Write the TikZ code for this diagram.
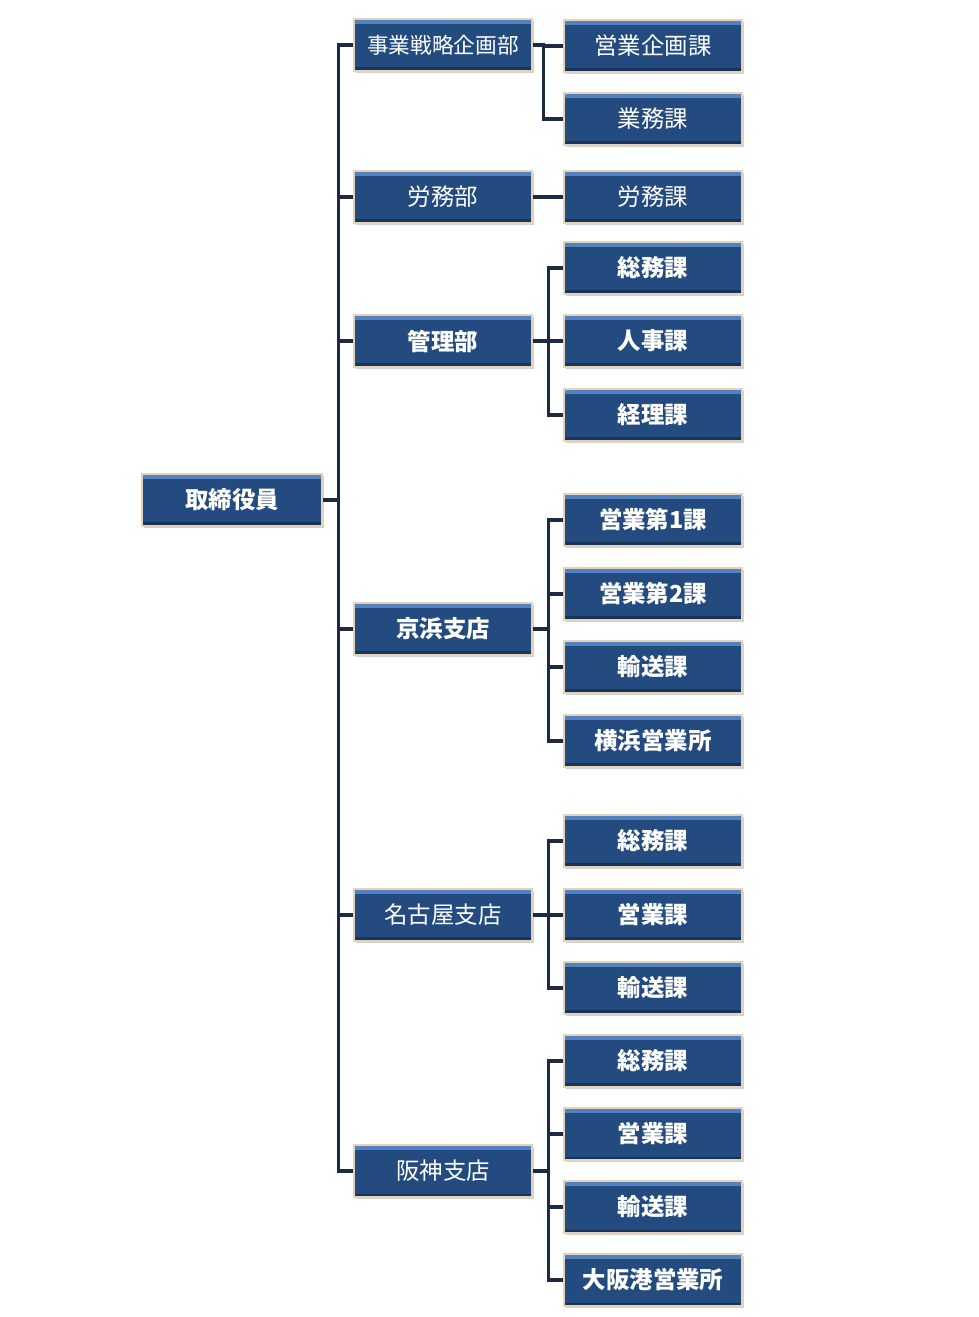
\documentclass[tikz,border=0pt]{standalone}
\usepackage{fontspec}
\usepackage{tikz}
\usetikzlibrary{shadows}
\newfontfamily\jpfont{Noto Sans CJK JP}
\definecolor{boxblue}{HTML}{244B7F}
\definecolor{boxtop}{HTML}{5282BF}
\definecolor{boxlow}{HTML}{183459}
\definecolor{boxedge}{HTML}{E4D3B9}
\definecolor{linkcol}{HTML}{1C2A45}

\begin{document}
\begin{tikzpicture}[
    x=0.03cm, y=-0.03cm,
    unit/.style={draw=boxedge, line width=1.6pt, fill=boxblue, text=white,
        minimum width=5.34cm, minimum height=1.56cm, inner sep=0pt,
        font=\jpfont\fontsize{20}{20}\selectfont,
        drop shadow={shadow xshift=1.5pt, shadow yshift=-1.5pt, fill=black!35},
        path picture={
            \fill[boxtop] (path picture bounding box.north west)
                rectangle ([yshift=-4pt]path picture bounding box.north east);
            \fill[boxlow] (path picture bounding box.south west)
                rectangle ([yshift=3pt]path picture bounding box.south east);
        }},
    unitb/.style={unit, font=\jpfont\bfseries\fontsize{20}{20}\selectfont},
    link/.style={draw=linkcol, line width=2.6pt}
]
\useasboundingbox (0,0) rectangle (978,1317);

%-------------------------
% Executives
%-------------------------
\node[unitb, minimum width=5.4cm] (exec) at (232,500) {取締役員};

%-------------------------
% Departments and branches
%-------------------------
\node[unit, font=\jpfont\fontsize{18.5}{18.5}\selectfont] (dStrat) at (443,45) {事業戦略企画部};
\node[unit]  (dLabor)   at (443,197)  {労務部};
\node[unitb] (dAdmin)   at (443,341)  {管理部};
\node[unitb] (bKeihin)  at (443,629)  {京浜支店};
\node[unit]  (bNagoya)  at (443,915)  {名古屋支店};
\node[unit]  (bHanshin) at (443,1171) {阪神支店};

%-------------------------
% Sections
%-------------------------
\node[unit]  (sPlan)    at (653,46)   {営業企画課};
\node[unit]  (sBiz)     at (653,119)  {業務課};
\node[unit]  (sLabor)   at (653,197)  {労務課};
\node[unitb] (aGen)     at (653,268)  {総務課};
\node[unitb] (aHR)      at (653,341)  {人事課};
\node[unitb] (aAcc)     at (653,415)  {経理課};
\node[unitb] (kSales1)  at (653,520)  {営業第1課};
\node[unitb] (kSales2)  at (653,594)  {営業第2課};
\node[unitb] (kTrans)   at (653,667)  {輸送課};
\node[unitb] (kYoko)    at (653,741)  {横浜営業所};
\node[unitb] (nGen)     at (653,841)  {総務課};
\node[unitb] (nSales)   at (653,915)  {営業課};
\node[unitb] (nTrans)   at (653,988)  {輸送課};
\node[unitb] (hGen)     at (653,1061) {総務課};
\node[unitb] (hSales)   at (653,1134) {営業課};
\node[unitb] (hTrans)   at (653,1207) {輸送課};
\node[unitb] (hPort)    at (653,1280) {大阪港営業所};

%-------------------------
% Connectors
%-------------------------
\foreach \d in {dStrat,dLabor,dAdmin,bKeihin,bNagoya,bHanshin}
    \draw[link] (exec.east) -- ++(16,0) |- (\d.west);

\foreach \s in {sPlan,sBiz}
    \draw[link] (dStrat.east) -- ++(11,0) |- (\s.west);
\draw[link] (dLabor.east) -- (sLabor.west);
\foreach \s in {aGen,aHR,aAcc}
    \draw[link] (dAdmin.east) -- ++(16,0) |- (\s.west);
\foreach \s in {kSales1,kSales2,kTrans,kYoko}
    \draw[link] (bKeihin.east) -- ++(16,0) |- (\s.west);
\foreach \s in {nGen,nSales,nTrans}
    \draw[link] (bNagoya.east) -- ++(16,0) |- (\s.west);
\foreach \s in {hGen,hSales,hTrans,hPort}
    \draw[link] (bHanshin.east) -- ++(16,0) |- (\s.west);
\end{tikzpicture}
\end{document}
